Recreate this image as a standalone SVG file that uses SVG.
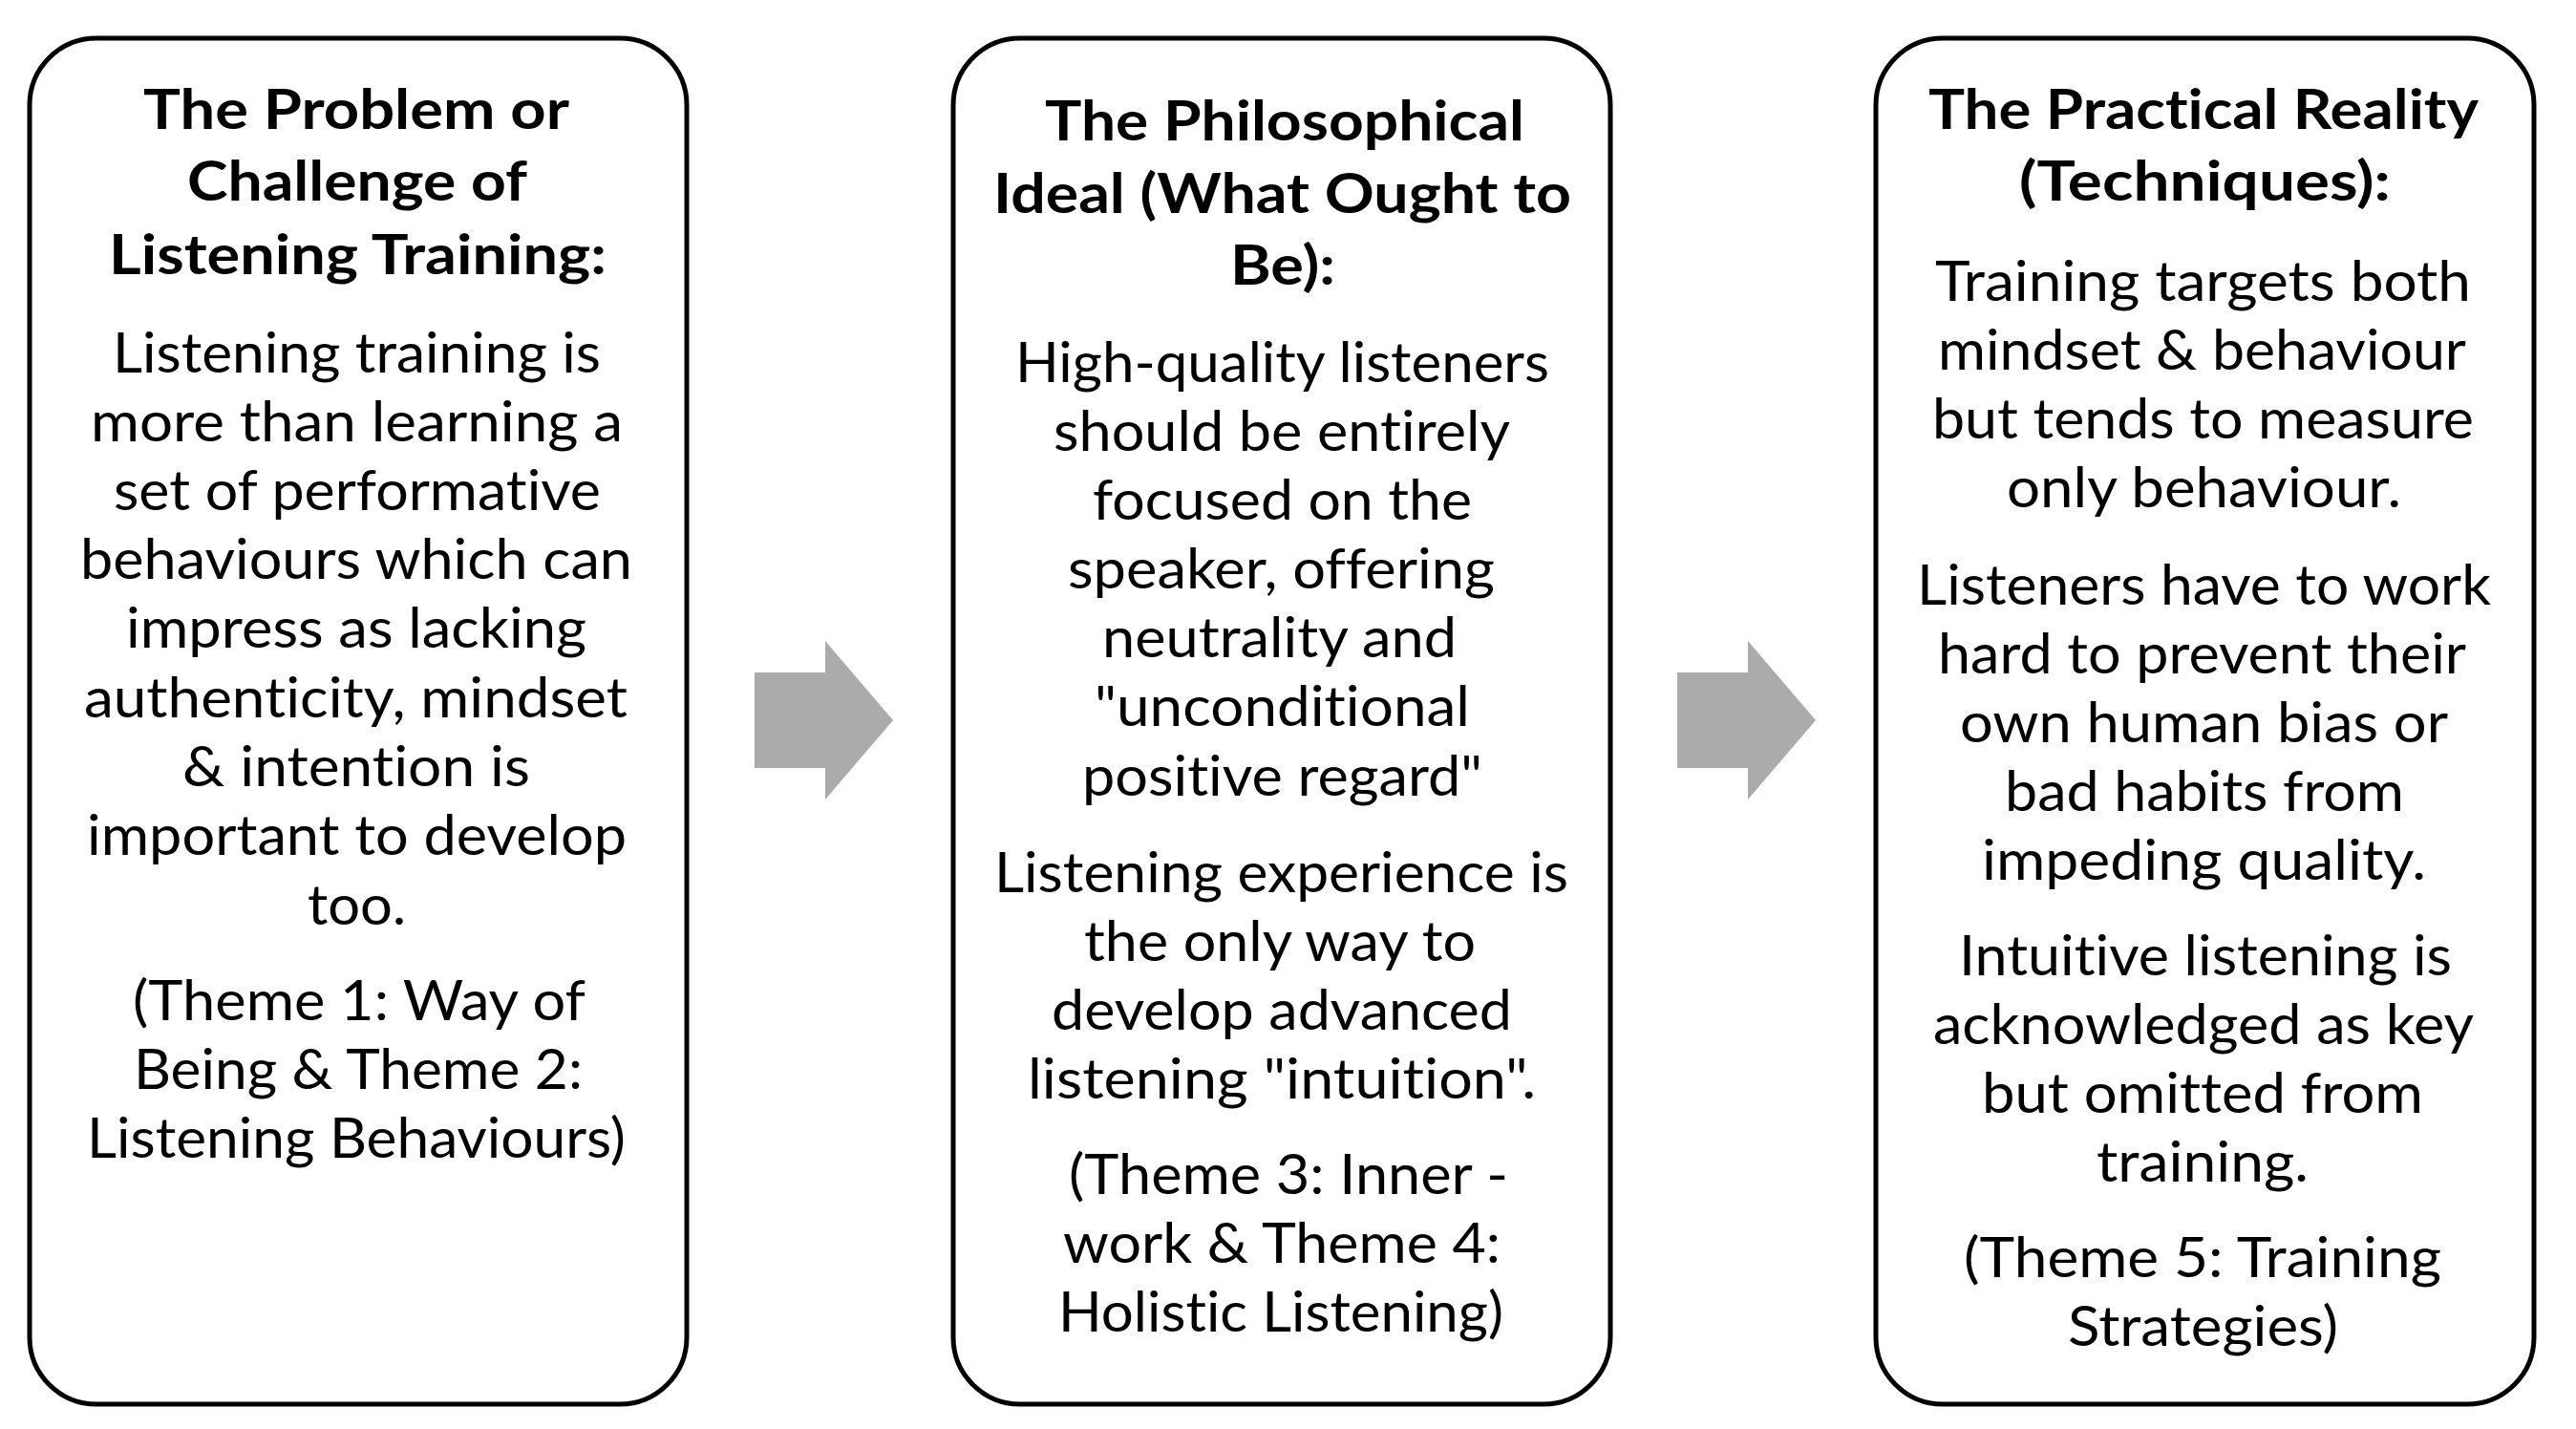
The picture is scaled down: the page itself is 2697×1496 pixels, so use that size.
<svg xmlns="http://www.w3.org/2000/svg" width="2697" height="1496" viewBox="0 0 2697 1496">
<style>
.box{fill:#ffffff;stroke:#000000;stroke-width:5}
.arrow{fill:#ababab}
.t{font-family:Lato,"Open Sans","Liberation Sans",sans-serif;font-size:58px;font-weight:700;fill:#000000;font-variant-ligatures:none}
.b{font-family:Lato,"Open Sans","Liberation Sans",sans-serif;font-size:58px;font-weight:400;fill:#000000;font-variant-ligatures:none}
</style>
<rect width="2697" height="1496" fill="#ffffff"/>
<g id="connectors">
<polygon class="arrow" points="790,704 864,704 864,671 935,754 864,837 864,804 790,804"/>
<polygon class="arrow" points="1756,704 1830,704 1830,671 1901,754 1830,837 1830,804 1756,804"/>
</g>
<g id="node-problem">
<rect class="box" x="31" y="40" width="688" height="1430" rx="70" ry="70"/>
<text class="t" x="150" y="135" textLength="446" lengthAdjust="spacingAndGlyphs">The Problem or</text>
<text class="t" x="196" y="210" textLength="356" lengthAdjust="spacingAndGlyphs">Challenge of</text>
<text class="t" x="114" y="287" textLength="521" lengthAdjust="spacingAndGlyphs">Listening Training:</text>
<text class="b" x="118" y="390" textLength="511" lengthAdjust="spacingAndGlyphs">Listening training is</text>
<text class="b" x="95" y="462" textLength="557" lengthAdjust="spacingAndGlyphs">more than learning a</text>
<text class="b" x="119" y="534" textLength="510" lengthAdjust="spacingAndGlyphs">set of performative</text>
<text class="b" x="84" y="606" textLength="578" lengthAdjust="spacingAndGlyphs">behaviours which can</text>
<text class="b" x="132" y="678" textLength="482" lengthAdjust="spacingAndGlyphs">impress as lacking</text>
<text class="b" x="88" y="751" textLength="569" lengthAdjust="spacingAndGlyphs">authenticity, mindset</text>
<text class="b" x="191" y="823" textLength="364" lengthAdjust="spacingAndGlyphs">&amp; intention is</text>
<text class="b" x="91" y="895" textLength="565" lengthAdjust="spacingAndGlyphs">important to develop</text>
<text class="b" x="322" y="968" textLength="103" lengthAdjust="spacingAndGlyphs">too.</text>
<text class="b" x="139" y="1068" textLength="474" lengthAdjust="spacingAndGlyphs">(Theme 1: Way of</text>
<text class="b" x="140" y="1140" textLength="470" lengthAdjust="spacingAndGlyphs">Being &amp; Theme 2:</text>
<text class="b" x="91" y="1212" textLength="564" lengthAdjust="spacingAndGlyphs">Listening Behaviours)</text>
</g>
<g id="node-ideal">
<rect class="box" x="998" y="40" width="688" height="1430" rx="70" ry="70"/>
<text class="t" x="1094" y="147" textLength="502" lengthAdjust="spacingAndGlyphs">The Philosophical</text>
<text class="t" x="1040" y="223" textLength="605" lengthAdjust="spacingAndGlyphs">Ideal (What Ought to</text>
<text class="t" x="1288" y="298" textLength="110" lengthAdjust="spacingAndGlyphs">Be):</text>
<text class="b" x="1063" y="400" textLength="559" lengthAdjust="spacingAndGlyphs">High-quality listeners</text>
<text class="b" x="1103" y="472" textLength="478" lengthAdjust="spacingAndGlyphs">should be entirely</text>
<text class="b" x="1144" y="544" textLength="397" lengthAdjust="spacingAndGlyphs">focused on the</text>
<text class="b" x="1118" y="616" textLength="447" lengthAdjust="spacingAndGlyphs">speaker, offering</text>
<text class="b" x="1154" y="688" textLength="371" lengthAdjust="spacingAndGlyphs">neutrality and</text>
<text class="b" x="1146" y="760" textLength="393" lengthAdjust="spacingAndGlyphs">"unconditional</text>
<text class="b" x="1133" y="833" textLength="419" lengthAdjust="spacingAndGlyphs">positive regard"</text>
<text class="b" x="1041" y="934" textLength="601" lengthAdjust="spacingAndGlyphs">Listening experience is</text>
<text class="b" x="1135" y="1006" textLength="410" lengthAdjust="spacingAndGlyphs">the only way to</text>
<text class="b" x="1101" y="1078" textLength="482" lengthAdjust="spacingAndGlyphs">develop advanced</text>
<text class="b" x="1076" y="1150" textLength="532" lengthAdjust="spacingAndGlyphs">listening "intuition".</text>
<text class="b" x="1119" y="1250" textLength="460" lengthAdjust="spacingAndGlyphs">(Theme 3: Inner -</text>
<text class="b" x="1113" y="1322" textLength="458" lengthAdjust="spacingAndGlyphs">work &amp; Theme 4:</text>
<text class="b" x="1108" y="1394" textLength="466" lengthAdjust="spacingAndGlyphs">Holistic Listening)</text>
</g>
<g id="node-reality">
<rect class="box" x="1964" y="40" width="689" height="1430" rx="70" ry="70"/>
<text class="t" x="2019" y="135" textLength="576" lengthAdjust="spacingAndGlyphs">The Practical Reality</text>
<text class="t" x="2114" y="210" textLength="389" lengthAdjust="spacingAndGlyphs">(Techniques):</text>
<text class="b" x="2026" y="315" textLength="561" lengthAdjust="spacingAndGlyphs">Training targets both</text>
<text class="b" x="2029" y="387" textLength="553" lengthAdjust="spacingAndGlyphs">mindset &amp; behaviour</text>
<text class="b" x="2023" y="459" textLength="567" lengthAdjust="spacingAndGlyphs">but tends to measure</text>
<text class="b" x="2101" y="531" textLength="413" lengthAdjust="spacingAndGlyphs">only behaviour.</text>
<text class="b" x="2007" y="633" textLength="601" lengthAdjust="spacingAndGlyphs">Listeners have to work</text>
<text class="b" x="2029" y="705" textLength="553" lengthAdjust="spacingAndGlyphs">hard to prevent their</text>
<text class="b" x="2052" y="777" textLength="511" lengthAdjust="spacingAndGlyphs">own human bias or</text>
<text class="b" x="2099" y="849" textLength="418" lengthAdjust="spacingAndGlyphs">bad habits from</text>
<text class="b" x="2075" y="921" textLength="465" lengthAdjust="spacingAndGlyphs">impeding quality.</text>
<text class="b" x="2051" y="1021" textLength="516" lengthAdjust="spacingAndGlyphs">Intuitive listening is</text>
<text class="b" x="2024" y="1093" textLength="566" lengthAdjust="spacingAndGlyphs">acknowledged as key</text>
<text class="b" x="2075" y="1165" textLength="462" lengthAdjust="spacingAndGlyphs">but omitted from</text>
<text class="b" x="2195" y="1237" textLength="222" lengthAdjust="spacingAndGlyphs">training.</text>
<text class="b" x="2056" y="1337" textLength="500" lengthAdjust="spacingAndGlyphs">(Theme 5: Training</text>
<text class="b" x="2165" y="1409" textLength="283" lengthAdjust="spacingAndGlyphs">Strategies)</text>
</g>
</svg>
